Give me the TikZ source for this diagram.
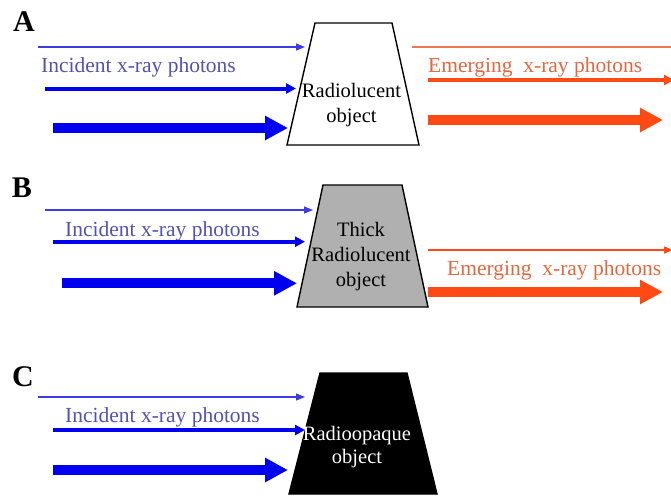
\documentclass[tikz,border=0pt]{standalone}
\usepackage{fontspec}
\setmainfont{Liberation Serif}
\usetikzlibrary{arrows.meta}
\definecolor{bluethin}{HTML}{3C3CE6}
\definecolor{blueline}{HTML}{0000F0}
\definecolor{bluetext}{HTML}{5252B4}
\definecolor{redline}{HTML}{FF4A14}
\definecolor{redthin}{HTML}{F07850}
\definecolor{redtext}{HTML}{E4663E}
\definecolor{objgray}{HTML}{B0B0B0}
\tikzset{
  panel/.style={font=\fontsize{30}{32}\selectfont\bfseries, inner sep=0pt},
  caption/.style={font=\fontsize{21.5}{24}\selectfont, inner sep=0pt, anchor=west},
  objtext/.style={font=\fontsize{20.5}{25}\selectfont, inner sep=0pt, align=center},
  thinarrow/.style={line width=1.2pt, -{Triangle[length=9pt,width=7pt]}},
  medarrow/.style={line width=4pt, -{Triangle[length=10pt,width=10pt]}},
  thickarrow/.style={line width=10pt, -{Triangle[length=23pt,width=23pt]}},
  objshape/.style={line width=1.4pt, draw=black}
}
\begin{document}
\begin{tikzpicture}[x=1pt,y=-1pt]
\useasboundingbox (0,0) rectangle (671,496);
\clip (0,0) rectangle (671,496);
% ---------- Panel A ----------
\node[panel] (labA) at (24,22) {A};
\coordinate (a1s) at (38,47);   \coordinate (a1e) at (305,47);
\coordinate (a2s) at (45,88.5); \coordinate (a2e) at (296,88.5);
\coordinate (a3s) at (53,128);  \coordinate (a3e) at (288,128);
\draw[thinarrow, bluethin] (a1s) -- (a1e);
\node[caption, text=bluetext] (incA) at (41,67) {Incident x-ray photons};
\draw[medarrow, blueline] (a2s) -- (a2e);
\draw[thickarrow, blueline] (a3s) -- (a3e);
\draw[objshape, fill=white] (315,23) -- (392,23) -- (419,145) -- (287,145) -- cycle;
\node[objtext] (objA) at (351.5,105) {Radiolucent\\object};
\coordinate (r1s) at (412,47);  \coordinate (r1e) at (690,47);
\coordinate (r2s) at (428,80);  \coordinate (r2e) at (674,80);
\coordinate (r3s) at (428,120); \coordinate (r3e) at (663,120);
\draw[line width=1.2pt, redthin] (r1s) -- (r1e);
\node[caption, text=redtext] (emA) at (428,67) {Emerging\ \ x-ray photons};
\draw[medarrow, redline] (r2s) -- (r2e);
\draw[thickarrow, redline] (r3s) -- (r3e);
% ---------- Panel B ----------
\node[panel] (labB) at (22,188) {B};
\coordinate (b1s) at (45,210);    \coordinate (b1e) at (313,210);
\coordinate (b2s) at (53,241.7);  \coordinate (b2e) at (305,241.7);
\coordinate (b3s) at (62,283.3);  \coordinate (b3e) at (297,283.3);
\draw[thinarrow, bluethin] (b1s) -- (b1e);
\node[caption, text=bluetext] (incB) at (65,231.5) {Incident x-ray photons};
\draw[medarrow, blueline] (b2s) -- (b2e);
\draw[thickarrow, blueline] (b3s) -- (b3e);
\draw[objshape, fill=objgray] (323,185) -- (402,185) -- (428,307) -- (297,307) -- cycle;
\node[objtext] (objB) at (361,257) {Thick\\Radiolucent\\object};
\coordinate (s1s) at (428,250);  \coordinate (s1e) at (673,250);
\coordinate (s3s) at (428,292);  \coordinate (s3e) at (663,292);
\draw[thinarrow, line width=1.4pt, redline] (s1s) -- (s1e);
\node[caption, text=redtext] (emB) at (447,270) {Emerging\ \ x-ray photons};
\draw[thickarrow, redline] (s3s) -- (s3e);
% ---------- Panel C ----------
\node[panel] (labC) at (23,377) {C};
\coordinate (c1s) at (38,397);  \coordinate (c1e) at (305,397);
\coordinate (c2s) at (53,430);  \coordinate (c2e) at (305,430);
\coordinate (c3s) at (53,470);  \coordinate (c3e) at (288,470);
\draw[thinarrow, bluethin] (c1s) -- (c1e);
\node[caption, text=bluetext] (incC) at (65,417) {Incident x-ray photons};
\draw[medarrow, blueline] (c2s) -- (c2e);
\draw[thickarrow, blueline] (c3s) -- (c3e);
\draw[objshape, fill=black] (320,373) -- (407,373) -- (437,494) -- (289,494) -- cycle;
\node[objtext, text=white, font=\fontsize{20.5}{23}\selectfont] (objC) at (357,447.5) {Radioopaque\\object};
\end{tikzpicture}
\end{document}
